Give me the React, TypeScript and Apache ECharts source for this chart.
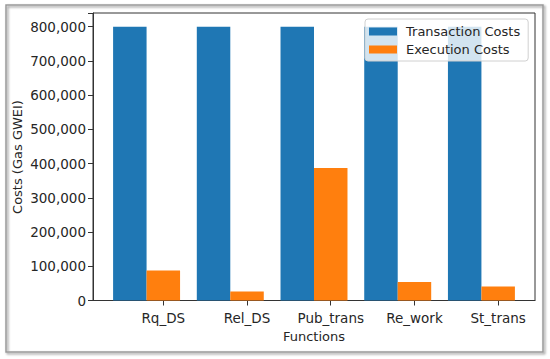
import React, { useEffect, useRef } from "react";
import * as echarts from "echarts";

const categories = ["Rq_DS", "Rel_DS", "Pub_trans", "Re_work", "St_trans"];
const transactionCosts = [800000, 800000, 800000, 800000, 800000];
const executionCosts = [88000, 26000, 387000, 54000, 41000];
const yTicks = [0, 100000, 200000, 300000, 400000, 500000, 600000, 700000, 800000];

const FONT = "DejaVu Sans";
const TXT = "#262626";

export default function App() {
  const ref = useRef<HTMLDivElement>(null);
  useEffect(() => {
    if (!ref.current) return;
    const chart = echarts.init(ref.current, null, { renderer: "svg" });
    const labelPos = categories.map((_, i) => i + 0.4);
    chart.setOption({
      animation: false,
      backgroundColor: "#ffffff",
      textStyle: { fontFamily: FONT },
      grid: { left: 93, right: 15, top: 13, bottom: 58.5, show: true, borderColor: "#333", borderWidth: 1, backgroundColor: "transparent" },
      legend: {
        orient: "vertical",
        left: 365,
        top: 19,
        padding: [6, 8, 5, 4],
        itemGap: 5,
        itemWidth: 28,
        itemHeight: 8,
        icon: "rect",
        backgroundColor: "rgba(255,255,255,0.8)",
        borderColor: "#d0d0d0",
        borderWidth: 1,
        borderRadius: 3,
        textStyle: { fontFamily: FONT, fontSize: 13, color: TXT, padding: [0, 0, 0, 4] },
        data: ["Transaction Costs", "Execution Costs"],
      },
      xAxis: {
        type: "value",
        min: -0.44,
        max: 4.84,
        splitLine: { show: false },
        axisLine: { show: true, onZero: false, lineStyle: { color: "#333" } },
        axisTick: { show: true, length: 5, lineStyle: { color: "#333" }, customValues: labelPos },
        axisLabel: {
          show: true,
          margin: 10,
          fontFamily: FONT,
          fontSize: 13.5,
          color: TXT,
          customValues: labelPos,
          formatter: (v: number) => categories[Math.round(v - 0.4)] ?? "",
        },
      },
      yAxis: {
        type: "value",
        min: 0,
        max: 840000,
        interval: 100000,
        splitLine: { show: false },
        axisLine: { show: true, onZero: false, lineStyle: { color: "#333" } },
        axisTick: { show: true, length: 5, lineStyle: { color: "#333" } },
        axisLabel: {
          margin: 7,
          fontFamily: FONT,
          fontSize: 13.5,
          color: TXT,
          formatter: (v: number) => (yTicks.includes(v) ? v.toLocaleString("en-US") : ""),
        },
      },
      series: [
        {
          name: "Transaction Costs",
          type: "bar",
          barWidth: "40%",
          barGap: 0,
          itemStyle: { color: "#1f77b4" },
          data: transactionCosts.map((v, i) => [i + 0.2, v]),
        },
        {
          name: "Execution Costs",
          type: "bar",
          barWidth: "40%",
          barGap: 0,
          itemStyle: { color: "#ff7f0e" },
          data: executionCosts.map((v, i) => [i + 0.2, v]),
        },
      ],
      graphic: [
        {
          type: "rect",
          shape: { x: 6, y: 5, width: 537, height: 347 },
          style: {
            fill: "transparent",
            stroke: "#9a9a9a",
            lineWidth: 1.5,
            shadowBlur: 2,
            shadowOffsetX: 1.5,
            shadowOffsetY: 1.5,
            shadowColor: "rgba(0,0,0,0.45)",
          },
          silent: true,
        },
        {
          type: "text",
          x: 17.5,
          y: 157,
          rotation: Math.PI / 2,
          style: { text: "Costs (Gas GWEI)", fontFamily: FONT, fontSize: 13, fill: TXT, align: "center", verticalAlign: "middle" },
        },
        {
          type: "text",
          x: 314,
          y: 336,
          style: { text: "Functions", fontFamily: FONT, fontSize: 13, fill: TXT, align: "center", verticalAlign: "middle" },
        },
      ],
    });
    return () => chart.dispose();
  }, []);
  return <div ref={ref} style={{ width: 550, height: 359, position: "absolute", left: 0, top: 0 }} />;
}
